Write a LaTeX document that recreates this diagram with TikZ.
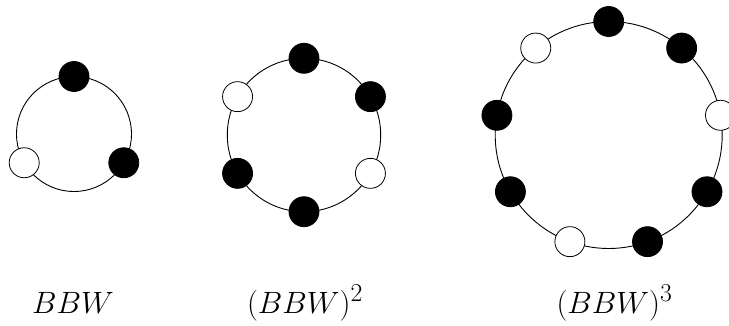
\documentclass[tikz,border=0pt]{standalone}
\begin{document}
\begin{tikzpicture}[x=1pt,y=1pt,
  ring/.style={line width=0.9pt},
  bb/.style={circle,draw,fill=black,minimum size=30pt,inner sep=0pt,line width=0.8pt},
  wb/.style={circle,draw,fill=white,minimum size=30pt,inner sep=0pt,line width=0.8pt},
  lab/.style={anchor=base,inner sep=0pt,font=\fontsize{24.88}{30}\selectfont}]
\useasboundingbox (0,0) rectangle (729,325);
\clip (0,0) rectangle (729,325);
% ring 1
\coordinate (c1) at (74,191);
\draw[ring] (c1) circle (57.5);
\path (c1) ++(90:57.5) node[bb] (a1) {};
\path (c1) ++(-30:57.5) node[bb] (a2) {};
\path (c1) ++(210:57.5) node[wb] (a3) {};
% ring 2
\coordinate (c2) at (304,190);
\draw[ring] (c2) circle (76.7);
\path (c2) ++(90:76.7) node[bb] (b1) {};
\path (c2) ++(30:76.7) node[bb] (b2) {};
\path (c2) ++(-30:76.7) node[wb] (b3) {};
\path (c2) ++(-90:76.7) node[bb] (b4) {};
\path (c2) ++(-150:76.7) node[bb] (b5) {};
\path (c2) ++(150:76.7) node[wb] (b6) {};
% ring 3
\coordinate (c3) at (608.7,190);
\draw[ring] (c3) circle (113.5);
\path (c3) ++(90:113.5) node[bb] (d1) {};
\path (c3) ++(50:113.5) node[bb] (d2) {};
\path (c3) ++(10:113.5) node[wb] (d3) {};
\path (c3) ++(-30:113.5) node[bb] (d4) {};
\path (c3) ++(-70:113.5) node[bb] (d5) {};
\path (c3) ++(-110:113.5) node[wb] (d6) {};
\path (c3) ++(-150:113.5) node[bb] (d7) {};
\path (c3) ++(170:113.5) node[bb] (d8) {};
\path (c3) ++(130:113.5) node[wb] (d9) {};
% labels
\node[lab] (l1) at (73,12) {\scalebox{1.24}{$BBW$}};
\node[lab] (l2) at (305,12) {\scalebox{1.24}{$(BBW)^2$}};
\node[lab] (l3) at (614.5,12) {\scalebox{1.24}{$(BBW)^3$}};
\end{tikzpicture}
\end{document}
